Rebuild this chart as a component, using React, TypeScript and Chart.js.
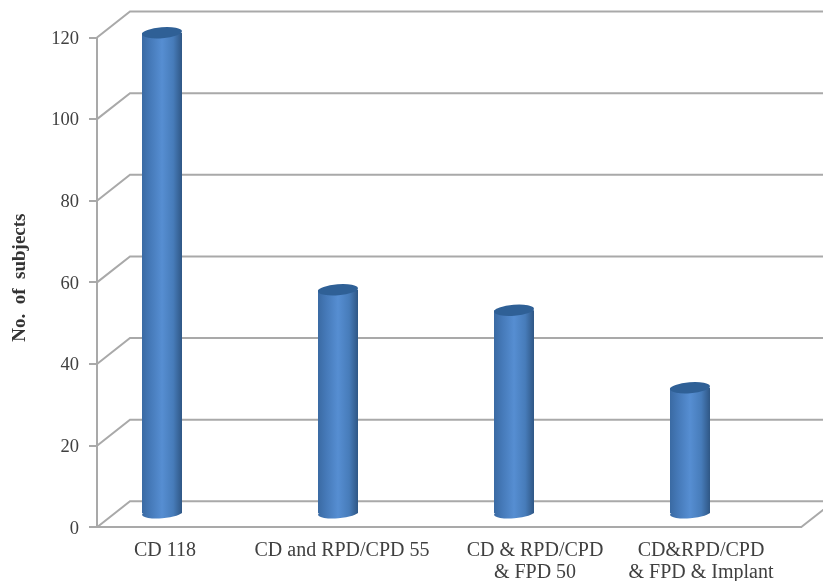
import React, { useEffect, useRef } from "react";
import { Chart, registerables } from "chart.js";

Chart.register(...registerables);

const categories: string[][] = [
  ["CD 118"],
  ["CD and RPD/CPD 55"],
  ["CD & RPD/CPD", "& FPD 50"],
  ["CD&RPD/CPD", "& FPD & Implant"],
];
const subjects = [118, 55, 50, 31];
const yTicks = [0, 20, 40, 60, 80, 100, 120];
const yTitle = "  No.  of  subjects";

const FONT = "'Liberation Serif', serif";
const GREY = "#a9a9a9";
const BAR_W = 40;
const DEPTH_X = 33;
const DEPTH_Y = -26;
const BAR_SHIFT_X = -23;
const BAR_SHIFT_Y = -13;
const LABEL_SHIFT = [-20, -19, -2, -12];
const Y_LABEL_SHIFT = 1.5;

const sideGradient = (ctx: CanvasRenderingContext2D, cx: number) => {
  if (!Number.isFinite(cx)) return "#4f81bd";
  const g = ctx.createLinearGradient(cx - BAR_W / 2, 0, cx + BAR_W / 2, 0);
  g.addColorStop(0, "#3a6aa3");
  g.addColorStop(0.2, "#4579b8");
  g.addColorStop(0.5, "#568ed2");
  g.addColorStop(0.78, "#477cba");
  g.addColorStop(1, "#2f5785");
  return g;
};

const wallPlugin = {
  id: "walls",
  beforeDatasetsDraw(chart: any) {
    const { ctx, scales, chartArea } = chart;
    const y = scales.y;
    ctx.save();
    ctx.strokeStyle = GREY;
    ctx.lineWidth = 2;
    ctx.beginPath();
    for (const v of yTicks) {
      const py = y.getPixelForValue(v);
      ctx.moveTo(chartArea.left, py);
      ctx.lineTo(chartArea.left + DEPTH_X, py + DEPTH_Y);
      ctx.lineTo(chart.width, py + DEPTH_Y);
    }
    const y0 = y.getPixelForValue(0);
    ctx.moveTo(chartArea.right, y0);
    ctx.lineTo(chartArea.right + DEPTH_X, y0 + DEPTH_Y);
    ctx.stroke();
    ctx.restore();
  },
  beforeDatasetDraw(chart: any) {
    chart.ctx.save();
    chart.ctx.translate(BAR_SHIFT_X, BAR_SHIFT_Y);
  },
  afterDatasetDraw(chart: any) {
    const ctx: CanvasRenderingContext2D = chart.ctx;
    const tilt = (-4.5 * Math.PI) / 180;
    for (const el of chart.getDatasetMeta(0).data) {
      ctx.fillStyle = sideGradient(ctx, el.x);
      ctx.beginPath();
      ctx.ellipse(el.x, el.base, BAR_W / 2, 5, tilt, 0, Math.PI * 2);
      ctx.fill();
      ctx.fillStyle = "#2f6096";
      ctx.beginPath();
      ctx.ellipse(el.x, el.y, BAR_W / 2, 5.5, tilt, 0, Math.PI * 2);
      ctx.fill();
    }
    ctx.restore();
  },
};

const labelPlugin = {
  id: "labelShift",
  beforeDraw(chart: any) {
    const items = chart.scales.x.getLabelItems();
    if (!items.shifted) {
      items.shifted = true;
      items.forEach((it: any, i: number) => {
        it.options.translation[0] += LABEL_SHIFT[i];
      });
    }
    const yItems = chart.scales.y.getLabelItems();
    if (!yItems.shifted) {
      yItems.shifted = true;
      yItems.forEach((it: any) => {
        it.options.translation[1] += Y_LABEL_SHIFT;
      });
    }
  },
};

export default function App() {
  const ref = useRef<HTMLCanvasElement>(null);
  useEffect(() => {
    const chart = new Chart(ref.current!, {
      type: "bar",
      data: {
        labels: categories,
        datasets: [
          {
            data: subjects,
            barPercentage: BAR_W / 176,
            categoryPercentage: 1,
            backgroundColor: (c: any) => {
              const s = c.chart.scales?.x;
              if (!s || c.dataIndex === undefined) return "#4f81bd";
              return sideGradient(c.chart.ctx, s.getPixelForValue(c.dataIndex));
            },
          } as any,
        ],
      },
      options: {
        responsive: false,
        animation: false,
        devicePixelRatio: 1,
        layout: {
          autoPadding: false,
          padding: { left: 0, top: 37.5, right: 22, bottom: 0 },
        },
        plugins: { legend: { display: false }, tooltip: { enabled: false } },
        scales: {
          x: {
            afterFit: (s: any) => {
              s.height = 53.7;
            },
            grid: { display: false, drawTicks: false },
            border: { display: true, color: GREY, width: 2 },
            ticks: {
              autoSkip: false,
              maxRotation: 0,
              minRotation: 0,
              padding: 12,
              color: "#404040",
              font: { family: FONT, size: 20, lineHeight: 1.12 },
            },
          },
          y: {
            min: 0,
            max: 120,
            afterFit: (s: any) => {
              s.width = 97;
            },
            grid: { drawOnChartArea: false, color: GREY, lineWidth: 2, tickLength: 8 },
            border: { display: true, color: GREY, width: 2 },
            title: {
              display: true,
              text: yTitle,
              color: "#333333",
              padding: { top: 9, bottom: 0 },
              font: { family: FONT, size: 19, weight: "bold" },
            },
            ticks: {
              stepSize: 20,
              padding: 10,
              color: "#404040",
              font: { family: FONT, size: 18.5 },
            },
          },
        },
      },
      plugins: [wallPlugin, labelPlugin],
    } as any);
    return () => chart.destroy();
  }, []);
  return (
    <div style={{ position: "absolute", left: 0, top: 0 }}>
      <canvas ref={ref} width={823} height={581} style={{ display: "block" }} />
    </div>
  );
}
